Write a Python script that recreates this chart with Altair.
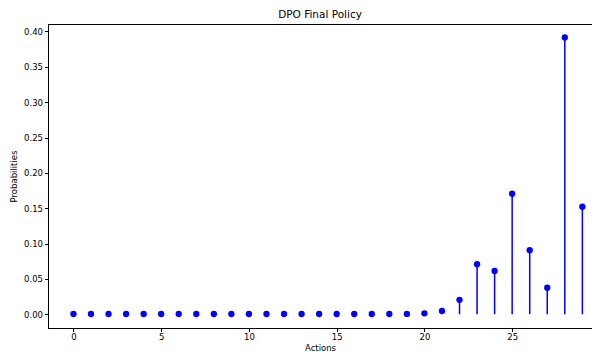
import altair as alt
import pandas as pd

actions = list(range(30))
probs = [0.0003, 0.0003, 0.0003, 0.0003, 0.0003, 0.0003, 0.0003, 0.0003, 0.0003, 0.0003,
         0.0003, 0.0003, 0.0003, 0.0003, 0.0003, 0.0003, 0.0003, 0.0003, 0.0003, 0.0004,
         0.0012, 0.0047, 0.0204, 0.0708, 0.0612, 0.1705, 0.0905, 0.0375, 0.3915, 0.152]
y_ticks = [0.0, 0.05, 0.1, 0.15, 0.2, 0.25, 0.3, 0.35, 0.4]
x_ticks = [0, 5, 10, 15, 20, 25]

df = pd.DataFrame({"action": actions, "prob": probs, "zero": [0.0] * len(actions)})

FONT = "DejaVu Sans"
xscale = alt.Scale(domain=[-1.45, 29.55], nice=False, zero=False)
yscale = alt.Scale(domain=[-0.0195, 0.4106], nice=False, zero=False)

xaxis = alt.Axis(title="Actions", values=x_ticks, grid=False, labelOverlap=False,
                 labelFont=FONT, titleFont=FONT, labelFontSize=8.5, titleFontSize=8.5,
                 titleFontWeight="normal", labelColor="#000", titleColor="#000",
                 domainColor="#000", tickColor="#000", tickSize=3.5, labelPadding=1, titlePadding=2)
yaxis = alt.Axis(title="Probabilities", values=y_ticks, format=".2f",
                 grid=False, labelOverlap=False,
                 labelFont=FONT, titleFont=FONT, labelFontSize=8.5, titleFontSize=8.5,
                 titleFontWeight="normal", labelColor="#000", titleColor="#000",
                 domainColor="#000", tickColor="#000", tickSize=3.5, labelPadding=2, titlePadding=5)

base = alt.Chart(df)
stems = base.mark_rule(color="#0000ff", strokeWidth=1.5).encode(
    x=alt.X("action:Q", scale=xscale, axis=xaxis),
    y=alt.Y("zero:Q", scale=yscale, axis=yaxis),
    y2="prob:Q",
)
points = base.mark_circle(color="#0000ff", size=40, opacity=1).encode(
    x=alt.X("action:Q", scale=xscale, axis=xaxis),
    y=alt.Y("prob:Q", scale=yscale, axis=yaxis),
)

chart = (stems + points).properties(
    width=544, height=304,
    title=alt.TitleParams("DPO Final Policy", font=FONT, fontSize=10.5, fontWeight="normal",
                          color="#000", offset=4),
    autosize=alt.AutoSizeParams(type="none"),
    padding={"left": 40, "top": 16, "right": 0, "bottom": 28},
).configure_view(stroke="#000", strokeWidth=1)

chart.save("out.html", embed_options={"renderer": "svg", "actions": False})
